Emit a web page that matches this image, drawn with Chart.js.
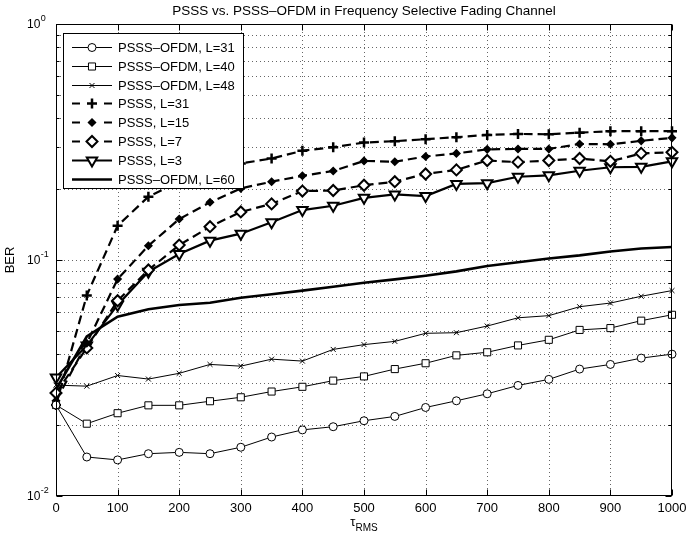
<!DOCTYPE html>
<html>
<head>
<meta charset="utf-8">
<script src="https://cdn.jsdelivr.net/npm/chart.js@4.4.1/dist/chart.umd.min.js"></script>
<style>
html,body{margin:0;padding:0;background:#fff;}
#wrap{width:693px;height:534px;}
canvas{display:block;}
</style>
</head>
<body>
<div id="wrap"><canvas id="c" width="693" height="534"></canvas></div>
<script>
// ---------------- data ----------------
const chartTitle = 'PSSS vs. PSSS\u2013OFDM in Frequency Selective Fading Channel';
const xAxisLabel = '\u03C4';
const xAxisLabelSub = 'RMS';
const yAxisLabel = 'BER';

const tauRms = [0,50,100,150,200,250,300,350,400,450,500,550,600,650,700,750,800,850,900,950,1000];
const xTickValues = [0,100,200,300,400,500,600,700,800,900,1000];
const yTickExponents = [-2,-1,0];

const seriesLabels = [
  'PSSS\u2013OFDM, L=31',
  'PSSS\u2013OFDM, L=40',
  'PSSS\u2013OFDM, L=48',
  'PSSS, L=31',
  'PSSS, L=15',
  'PSSS, L=7',
  'PSSS, L=3',
  'PSSS\u2013OFDM, L=60'
];

const berOfdmL31 = [0.0243,0.01463,0.01422,0.01511,0.01531,0.01511,0.01609,0.01778,0.01906,0.01966,0.02084,0.02174,0.02372,0.02532,0.02711,0.02941,0.0312,0.0345,0.0361,0.0384,0.0399];
const berOfdmL40 = [0.0243,0.02025,0.02243,0.02422,0.02422,0.02521,0.0262,0.02771,0.02902,0.03082,0.03212,0.0345,0.03652,0.03944,0.04065,0.04346,0.0459,0.05055,0.05146,0.05533,0.05859];
const berOfdmL48 = [0.0295,0.0292,0.0324,0.0313,0.0331,0.0361,0.0355,0.038,0.0373,0.0418,0.0438,0.0452,0.0489,0.0492,0.0525,0.0569,0.0581,0.0634,0.0657,0.0702,0.0742];
const berPsssL31 = [0.0243,0.0708,0.1397,0.1855,0.2147,0.2409,0.2566,0.2692,0.2903,0.3008,0.3145,0.3188,0.3251,0.3314,0.3388,0.342,0.341,0.3462,0.3516,0.3516,0.3516];
const berPsssL15 = [0.0253,0.0444,0.083,0.1149,0.1491,0.1756,0.2011,0.2147,0.2274,0.2382,0.2629,0.2608,0.2745,0.2829,0.2944,0.2955,0.2955,0.3102,0.3092,0.3198,0.3293];
const berPsssL7  = [0.0273,0.0424,0.0672,0.0907,0.1157,0.1384,0.1598,0.1729,0.1959,0.197,0.2074,0.2147,0.2315,0.2409,0.264,0.2598,0.264,0.2692,0.2619,0.2829,0.286];
const berPsssL3  = [0.0318,0.0434,0.0645,0.0892,0.106,0.1208,0.1293,0.1445,0.1628,0.1698,0.1834,0.1896,0.1865,0.2101,0.2116,0.2253,0.2284,0.2389,0.2472,0.2482,0.2619];
const berOfdmL60 = [0.0283,0.0474,0.0575,0.0618,0.0645,0.0659,0.0692,0.0716,0.0742,0.077,0.0801,0.0828,0.0858,0.0895,0.0943,0.0979,0.1015,0.1046,0.1087,0.1118,0.1135];

// ---------------- build ----------------
const FONT = '"Liberation Sans", Arial, Helvetica, sans-serif';
const toPoints = arr => tauRms.map((t, i) => ({x: t, y: arr[i]}));
const DASH = [9, 5];

function ds(label, arr, o) {
  return Object.assign({
    label: label,
    data: toPoints(arr),
    borderColor: '#000',
    pointBorderColor: '#000',
    pointBackgroundColor: '#fff',
    backgroundColor: '#fff',
    fill: false,
    tension: 0,
    clip: false,
    borderDash: [],
    borderWidth: 1,
    pointRadius: 0,
    pointBorderWidth: 1,
    pointStyle: 'circle',
    pointRotation: 0
  }, o);
}

const datasets = [
  ds(seriesLabels[0], berOfdmL31, {borderWidth: 1, pointStyle: 'circle', pointRadius: 4, pointBorderWidth: 1}),
  ds(seriesLabels[1], berOfdmL40, {borderWidth: 1, pointStyle: 'rect', pointRadius: 5, pointBorderWidth: 1}),
  ds(seriesLabels[2], berOfdmL48, {borderWidth: 1, pointStyle: 'crossRot', pointRadius: 3.5, pointBorderWidth: 1}),
  ds(seriesLabels[3], berPsssL31, {borderWidth: 2.2, borderDash: DASH, pointStyle: 'cross', pointRadius: 5, pointBorderWidth: 2.5}),
  ds(seriesLabels[4], berPsssL15, {borderWidth: 2.2, borderDash: DASH, pointStyle: 'rectRot', pointRadius: 3.5, pointBorderWidth: 1.5, pointBackgroundColor: '#000'}),
  ds(seriesLabels[5], berPsssL7,  {borderWidth: 2.2, borderDash: DASH, pointStyle: 'rectRot', pointRadius: 5.5, pointBorderWidth: 2}),
  ds(seriesLabels[6], berPsssL3,  {borderWidth: 2.2, pointStyle: 'triangle', pointRotation: 180, pointRadius: 6, pointBorderWidth: 2}),
  ds(seriesLabels[7], berOfdmL60, {borderWidth: 2.6, pointRadius: 0})
];

function drawMarker(ctx, d, x, y) {
  if (!d.pointRadius) return;
  ctx.save();
  ctx.setLineDash([]);
  ctx.strokeStyle = d.pointBorderColor;
  ctx.fillStyle = d.pointBackgroundColor;
  ctx.lineWidth = d.pointBorderWidth;
  const opts = {pointStyle: d.pointStyle, rotation: d.pointRotation, radius: d.pointRadius, borderWidth: d.pointBorderWidth};
  if (Chart.helpers && Chart.helpers.drawPoint) {
    Chart.helpers.drawPoint(ctx, opts, x, y);
  } else {
    ctx.beginPath(); ctx.arc(x, y, d.pointRadius, 0, Math.PI * 2); ctx.fill(); ctx.stroke();
  }
  ctx.restore();
}

const matlabAxes = {
  id: 'matlabAxes',
  beforeDatasetsDraw(chart) {
    const {ctx, chartArea: a, scales: {x, y}} = chart;
    ctx.save();
    ctx.strokeStyle = 'rgba(0,0,0,0.6)';
    ctx.lineWidth = 1;
    ctx.setLineDash([1, 3]);
    xTickValues.forEach(v => {
      if (v === x.min || v === x.max) return;
      const px = Math.round(x.getPixelForValue(v)) + 0.5;
      ctx.beginPath(); ctx.moveTo(px, a.top); ctx.lineTo(px, a.bottom); ctx.stroke();
    });
    for (let k = 0; k < yTickExponents.length - 1; k++) {
      for (let m = 1; m <= 9; m++) {
        if (k === 0 && m === 1) continue;
        const v = m * Math.pow(10, yTickExponents[k]);
        const py = Math.round(y.getPixelForValue(v)) + 0.5;
        ctx.beginPath(); ctx.moveTo(a.left, py); ctx.lineTo(a.right, py); ctx.stroke();
      }
    }
    ctx.restore();
  },
  afterDatasetsDraw(chart) {
    const {ctx, chartArea: a, scales: {x, y}} = chart;
    ctx.save();
    ctx.setLineDash([]);
    ctx.strokeStyle = '#000';
    ctx.lineWidth = 1;
    const L = a.left + 0.5, R = a.right - 0.5, T = a.top + 0.5, B = a.bottom - 0.5;
    xTickValues.forEach(v => {
      const px = Math.round(x.getPixelForValue(v)) + 0.5;
      ctx.beginPath();
      ctx.moveTo(px, B); ctx.lineTo(px, B - 6);
      ctx.moveTo(px, T); ctx.lineTo(px, T + 6);
      ctx.stroke();
    });
    for (let k = 0; k < yTickExponents.length; k++) {
      const base = Math.pow(10, yTickExponents[k]);
      const maxM = (k === yTickExponents.length - 1) ? 1 : 9;
      for (let m = 1; m <= maxM; m++) {
        const len = (m === 1) ? 6 : 3;
        const py = Math.round(y.getPixelForValue(m * base)) + 0.5;
        ctx.beginPath();
        ctx.moveTo(L, py); ctx.lineTo(L + len, py);
        ctx.moveTo(R, py); ctx.lineTo(R - len, py);
        ctx.stroke();
      }
    }
    ctx.strokeRect(L, T, R - L, B - T);

    ctx.fillStyle = '#000';
    ctx.font = '13px ' + FONT;
    ctx.textAlign = 'center';
    ctx.textBaseline = 'middle';
    xTickValues.forEach(v => {
      ctx.fillText(String(v), x.getPixelForValue(v), a.bottom + 12);
    });
    yTickExponents.forEach(e => {
      const py = y.getPixelForValue(Math.pow(10, e));
      ctx.font = '12px ' + FONT;
      ctx.textAlign = 'left';
      ctx.textBaseline = 'middle';
      const bx = 27;
      ctx.fillText('10', bx, py + 1);
      const w = ctx.measureText('10').width;
      ctx.font = '9px ' + FONT;
      ctx.fillText(String(e), bx + w + 0.5, py - 5);
    });
    ctx.save();
    ctx.translate(10, (a.top + a.bottom) / 2);
    ctx.rotate(-Math.PI / 2);
    ctx.font = '13px ' + FONT;
    ctx.textAlign = 'center';
    ctx.textBaseline = 'middle';
    ctx.fillText(yAxisLabel, 0, 0);
    ctx.restore();
    ctx.font = '13px ' + FONT;
    const tw = ctx.measureText(xAxisLabel).width;
    ctx.font = '10px ' + FONT;
    const sw = ctx.measureText(xAxisLabelSub).width;
    const cx = (a.left + a.right) / 2;
    const sx = cx - (tw + sw) / 2;
    ctx.textAlign = 'left';
    ctx.textBaseline = 'middle';
    ctx.font = '13px ' + FONT;
    ctx.fillText(xAxisLabel, sx, a.bottom + 26);
    ctx.font = '10px ' + FONT;
    ctx.fillText(xAxisLabelSub, sx + tw, a.bottom + 32);
    ctx.font = '13.5px ' + FONT;
    ctx.textAlign = 'center';
    ctx.fillText(chartTitle, cx, 11);
    ctx.restore();
  },
  afterDraw(chart) {
    const ctx = chart.ctx;
    const bx = 63, by = 33, bw = 180, bh = 155;
    ctx.save();
    ctx.fillStyle = '#fff';
    ctx.fillRect(bx, by, bw, bh);
    ctx.strokeStyle = '#000';
    ctx.lineWidth = 1;
    ctx.setLineDash([]);
    ctx.strokeRect(bx + 0.5, by + 0.5, bw, bh);
    chart.data.datasets.forEach((d, i) => {
      const ry = Math.round(by + 14 + i * 18.8) + 0.5;
      ctx.save();
      ctx.strokeStyle = d.borderColor;
      ctx.lineWidth = d.borderWidth;
      if (d.borderDash && d.borderDash.length) {
        ctx.setLineDash([8, 24]);
      } else {
        ctx.setLineDash([]);
      }
      ctx.beginPath();
      ctx.moveTo(72, ry); ctx.lineTo(112, ry);
      ctx.stroke();
      ctx.restore();
      drawMarker(ctx, d, 92, ry);
      ctx.fillStyle = '#000';
      ctx.font = '13px ' + FONT;
      ctx.textAlign = 'left';
      ctx.textBaseline = 'middle';
      ctx.fillText(d.label, 118, ry + 0.5);
    });
    ctx.restore();
  }
};

new Chart(document.getElementById('c'), {
  type: 'line',
  data: {datasets: datasets},
  options: {
    responsive: false,
    animation: false,
    devicePixelRatio: 1,
    layout: {padding: {left: 56, right: 21, top: 24, bottom: 38}},
    scales: {
      x: {type: 'linear', min: 0, max: 1000, display: false},
      y: {type: 'logarithmic', min: 0.01, max: 1, display: false}
    },
    plugins: {
      legend: {display: false},
      title: {display: false},
      tooltip: {enabled: false}
    }
  },
  plugins: [matlabAxes]
});
</script>
</body>
</html>
